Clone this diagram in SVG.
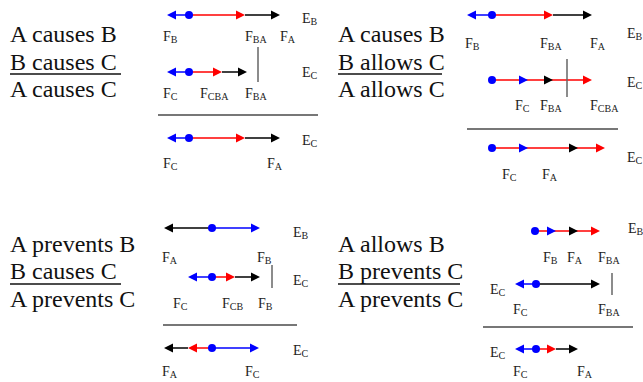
<svg xmlns="http://www.w3.org/2000/svg" width="643" height="382" viewBox="0 0 643 382">
<style>
.big{font-family:'Liberation Serif','DejaVu Serif',serif;font-size:24px;fill:#111}
.lb{font-family:'Liberation Serif','DejaVu Serif',serif;font-size:14px;fill:#222}
.sb{font-size:10px}
.ul{stroke:#111;stroke-width:1.5}
.sep{stroke:#777;stroke-width:2}
.vl{stroke:#666;stroke-width:1.5}
.b{stroke:#0000ff;stroke-width:1.5;fill:#0000ff}
.r{stroke:#ff0000;stroke-width:1.5;fill:#ff0000}
.k{stroke:#000;stroke-width:1.5;fill:#000}
.hb{fill:#0000ff}
.hr{fill:#ff0000}
.hk{fill:#000}
.dot{fill:#0000ff}
</style>
<defs>
<path id="ar" d="M0,0 L-9,-4.5 L-9,4.5 Z"/>
<path id="al" d="M0,0 L9,-4.5 L9,4.5 Z"/>
</defs>
<rect width="643" height="382" fill="#fff"/>

<g id="connectors">
  <line class="b" x1="189" y1="15" x2="170" y2="15"/><use href="#al" class="hb" x="167" y="15"/>
  <line class="r" x1="189" y1="15" x2="240" y2="15"/><use href="#ar" class="hr" x="245" y="15"/>
  <line class="k" x1="245" y1="15" x2="275" y2="15"/><use href="#ar" class="hk" x="280" y="15"/>
  <circle class="dot" cx="189" cy="15" r="4"/>
  <line class="b" x1="189" y1="72" x2="170" y2="72"/><use href="#al" class="hb" x="167" y="72"/>
  <line class="r" x1="189" y1="72" x2="217" y2="72"/><use href="#ar" class="hr" x="222" y="72"/>
  <line class="k" x1="222" y1="72" x2="242" y2="72"/><use href="#ar" class="hk" x="247" y="72"/>
  <circle class="dot" cx="189" cy="72" r="4"/>
  <line class="b" x1="189" y1="138" x2="170" y2="138"/><use href="#al" class="hb" x="167" y="138"/>
  <line class="r" x1="189" y1="138" x2="240" y2="138"/><use href="#ar" class="hr" x="245" y="138"/>
  <line class="k" x1="245" y1="138" x2="275" y2="138"/><use href="#ar" class="hk" x="280" y="138"/>
  <circle class="dot" cx="189" cy="138" r="4"/>

  <line class="b" x1="492" y1="15" x2="470" y2="15"/><use href="#al" class="hb" x="467" y="15"/>
  <line class="r" x1="492" y1="15" x2="548" y2="15"/><use href="#ar" class="hr" x="553" y="15"/>
  <line class="k" x1="553" y1="15" x2="587" y2="15"/><use href="#ar" class="hk" x="592" y="15"/>
  <circle class="dot" cx="492" cy="15" r="4"/>
  <line class="r" x1="492" y1="80" x2="587" y2="80"/><use href="#ar" class="hr" x="592" y="80"/>
  <use href="#ar" class="hb" x="528" y="80"/><use href="#ar" class="hk" x="553" y="80"/>
  <circle class="dot" cx="492" cy="80" r="4"/>
  <line class="r" x1="492" y1="148" x2="600" y2="148"/><use href="#ar" class="hr" x="605" y="148"/>
  <use href="#ar" class="hb" x="528" y="148"/><use href="#ar" class="hk" x="578" y="148"/>
  <circle class="dot" cx="492" cy="148" r="4"/>

  <line class="k" x1="212" y1="228" x2="167" y2="228"/><use href="#al" class="hk" x="164" y="228"/>
  <line class="b" x1="212" y1="228" x2="255" y2="228"/><use href="#ar" class="hb" x="260" y="228"/>
  <circle class="dot" cx="212" cy="228" r="4"/>
  <line class="b" x1="212" y1="277" x2="191" y2="277"/><use href="#al" class="hb" x="188" y="277"/>
  <line class="r" x1="212" y1="277" x2="230" y2="277"/><use href="#ar" class="hr" x="235" y="277"/>
  <line class="k" x1="235" y1="277" x2="255" y2="277"/><use href="#ar" class="hk" x="260" y="277"/>
  <circle class="dot" cx="212" cy="277" r="4"/>
  <line class="r" x1="212" y1="348" x2="191" y2="348"/><use href="#al" class="hr" x="188" y="348"/>
  <line class="k" x1="188" y1="348" x2="167" y2="348"/><use href="#al" class="hk" x="164" y="348"/>
  <line class="b" x1="212" y1="348" x2="254" y2="348"/><use href="#ar" class="hb" x="259" y="348"/>
  <circle class="dot" cx="212" cy="348" r="4"/>

  <line class="r" x1="535" y1="231" x2="595" y2="231"/><use href="#ar" class="hr" x="600" y="231"/>
  <use href="#ar" class="hb" x="556" y="231"/><use href="#ar" class="hk" x="578" y="231"/>
  <circle class="dot" cx="535" cy="231" r="4"/>
  <line class="b" x1="536" y1="284" x2="518" y2="284"/><use href="#al" class="hb" x="515" y="284"/>
  <line class="k" x1="536" y1="284" x2="595" y2="284"/><use href="#ar" class="hk" x="600" y="284"/>
  <circle class="dot" cx="536" cy="284" r="4"/>
  <line class="b" x1="536" y1="349" x2="518" y2="349"/><use href="#al" class="hb" x="515" y="349"/>
  <line class="r" x1="536" y1="349" x2="551" y2="349"/><use href="#ar" class="hr" x="556" y="349"/>
  <line class="k" x1="556" y1="349" x2="573" y2="349"/><use href="#ar" class="hk" x="578" y="349"/>
  <circle class="dot" cx="536" cy="349" r="4"/>

  <line class="vl" x1="258" y1="47" x2="258" y2="82"/>
  <line class="sep" x1="158" y1="115" x2="318" y2="115"/>
  <line class="vl" x1="567" y1="59" x2="567" y2="97"/>
  <line class="sep" x1="467" y1="129" x2="618" y2="129"/>
  <line class="vl" x1="272" y1="265" x2="272" y2="288"/>
  <line class="sep" x1="163" y1="325" x2="297" y2="325"/>
  <line class="vl" x1="612" y1="273" x2="612" y2="295"/>
  <line class="sep" x1="483" y1="327" x2="633" y2="327"/>
</g>

<g id="panel1">
  <text class="big" x="10" y="42">A causes B</text>
  <text class="big" x="10" y="70">B causes C</text>
  <line class="ul" x1="10" y1="74" x2="121" y2="74"/>
  <text class="big" x="10" y="97">A causes C</text>
  <text class="lb" x="302" y="23">E<tspan class="sb" dy="2">B</tspan></text>
  <text class="lb" x="163" y="41">F<tspan class="sb" dy="2">B</tspan></text>
  <text class="lb" x="245" y="41">F<tspan class="sb" dy="2">BA</tspan></text>
  <text class="lb" x="280" y="41">F<tspan class="sb" dy="2">A</tspan></text>
  <text class="lb" x="302" y="77">E<tspan class="sb" dy="2">C</tspan></text>
  <text class="lb" x="163" y="98">F<tspan class="sb" dy="2">C</tspan></text>
  <text class="lb" x="200" y="98">F<tspan class="sb" dy="2">CBA</tspan></text>
  <text class="lb" x="245" y="98">F<tspan class="sb" dy="2">BA</tspan></text>
  <text class="lb" x="302" y="145">E<tspan class="sb" dy="2">C</tspan></text>
  <text class="lb" x="163" y="168">F<tspan class="sb" dy="2">C</tspan></text>
  <text class="lb" x="267" y="168">F<tspan class="sb" dy="2">A</tspan></text>
</g>

<g id="panel2">
  <text class="big" x="338" y="42">A causes B</text>
  <text class="big" x="338" y="70">B allows C</text>
  <line class="ul" x1="338" y1="74" x2="442" y2="74"/>
  <text class="big" x="338" y="97">A allows C</text>
  <text class="lb" x="627" y="38">E<tspan class="sb" dy="2">B</tspan></text>
  <text class="lb" x="465" y="48">F<tspan class="sb" dy="2">B</tspan></text>
  <text class="lb" x="540" y="48">F<tspan class="sb" dy="2">BA</tspan></text>
  <text class="lb" x="590" y="48">F<tspan class="sb" dy="2">A</tspan></text>
  <text class="lb" x="627" y="87">E<tspan class="sb" dy="2">C</tspan></text>
  <text class="lb" x="515" y="110">F<tspan class="sb" dy="2">C</tspan></text>
  <text class="lb" x="540" y="110">F<tspan class="sb" dy="2">BA</tspan></text>
  <text class="lb" x="590" y="110">F<tspan class="sb" dy="2">CBA</tspan></text>
  <text class="lb" x="627" y="162">E<tspan class="sb" dy="2">C</tspan></text>
  <text class="lb" x="502" y="179">F<tspan class="sb" dy="2">C</tspan></text>
  <text class="lb" x="542" y="179">F<tspan class="sb" dy="2">A</tspan></text>
</g>

<g id="panel3">
  <text class="big" x="10" y="252">A prevents B</text>
  <text class="big" x="10" y="279">B causes C</text>
  <line class="ul" x1="10" y1="284" x2="121" y2="284"/>
  <text class="big" x="10" y="307">A prevents C</text>
  <text class="lb" x="293" y="237">E<tspan class="sb" dy="2">B</tspan></text>
  <text class="lb" x="162" y="262">F<tspan class="sb" dy="2">A</tspan></text>
  <text class="lb" x="257" y="262">F<tspan class="sb" dy="2">B</tspan></text>
  <text class="lb" x="293" y="285">E<tspan class="sb" dy="2">C</tspan></text>
  <text class="lb" x="173" y="308">F<tspan class="sb" dy="2">C</tspan></text>
  <text class="lb" x="222" y="308">F<tspan class="sb" dy="2">CB</tspan></text>
  <text class="lb" x="258" y="308">F<tspan class="sb" dy="2">B</tspan></text>
  <text class="lb" x="293" y="355">E<tspan class="sb" dy="2">C</tspan></text>
  <text class="lb" x="162" y="376">F<tspan class="sb" dy="2">A</tspan></text>
  <text class="lb" x="245" y="376">F<tspan class="sb" dy="2">C</tspan></text>
</g>

<g id="panel4">
  <text class="big" x="338" y="252">A allows B</text>
  <text class="big" x="338" y="279">B prevents C</text>
  <line class="ul" x1="338" y1="284" x2="460" y2="284"/>
  <text class="big" x="338" y="307">A prevents C</text>
  <text class="lb" x="628" y="233">E<tspan class="sb" dy="2">B</tspan></text>
  <text class="lb" x="543" y="262">F<tspan class="sb" dy="2">B</tspan></text>
  <text class="lb" x="567" y="262">F<tspan class="sb" dy="2">A</tspan></text>
  <text class="lb" x="598" y="262">F<tspan class="sb" dy="2">BA</tspan></text>
  <text class="lb" x="490" y="294">E<tspan class="sb" dy="2">C</tspan></text>
  <text class="lb" x="513" y="314">F<tspan class="sb" dy="2">C</tspan></text>
  <text class="lb" x="598" y="314">F<tspan class="sb" dy="2">BA</tspan></text>
  <text class="lb" x="490" y="357">E<tspan class="sb" dy="2">C</tspan></text>
  <text class="lb" x="513" y="376">F<tspan class="sb" dy="2">C</tspan></text>
  <text class="lb" x="577" y="376">F<tspan class="sb" dy="2">A</tspan></text>
</g>
</svg>
